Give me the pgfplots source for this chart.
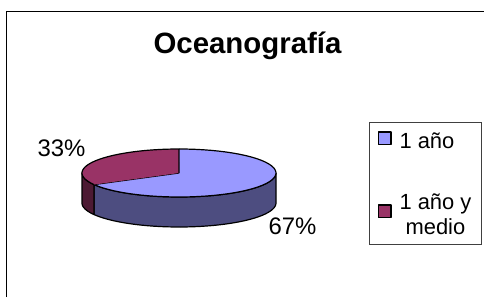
\documentclass[border=0pt]{standalone}
\usepackage{fontspec}
\setmainfont{Liberation Sans}
\usepackage{pgfplots}
\pgfplotsset{compat=1.18}
\usepackage{pgfplotstable}
\usepgfplotslibrary{fillbetween}
\definecolor{pieblue}{HTML}{9999FF}
\definecolor{piebluedark}{HTML}{4D4D80}
\definecolor{piered}{HTML}{993366}
\definecolor{pieredark}{HTML}{4D1A33}

\pgfplotstableread{
label value
{1 año} 67
{1 año y medio} 33
}\piedata
\pgfplotstablegetelem{0}{value}\of\piedata\let\vA\pgfplotsretval
\pgfplotstablegetelem{1}{value}\of\piedata\let\vB\pgfplotsretval
\pgfmathsetmacro\fA{\vA/(\vA+\vB)}
\pgfmathsetmacro\fB{\vB/(\vA+\vB)}
\pgfmathsetmacro\aS{90}
\pgfmathsetmacro\aM{90-360*\fA}
\pgfmathsetmacro\aE{\aM-360*\fB}
\def\cx{179}\def\cy{173}\def\rx{97}\def\ry{24}\def\dz{30}
\newcommand\twoline[2]{\vtop{\baselineskip=25bp\halign{\hfil##\hfil\cr #1\cr #2\cr}}}

\begin{document}%
\begin{tikzpicture}
\begin{axis}[
  x=1bp, y=1bp, xmin=0, xmax=484, ymin=0, ymax=297,
  y dir=reverse, hide axis, clip=false,
  legend style={at={(axis cs:369,122)}, anchor=north west,
    draw=black!75, line width=1bp, fill=white,
    font=\fontsize{22}{25}\selectfont,
    inner xsep=8bp, inner ysep=8bp,
    row sep=40bp,
    cells={inner sep=0pt},
    /tikz/every odd column/.append style={column sep=6bp}},
  legend cell align=left,
  legend image code/.code={\draw[#1, draw=black, line width=1.5bp] (0.5bp,-3.5bp) rectangle (13bp,9bp);},
]
% sides
\addplot[name path=bt, draw=none, domain=\aM:0, samples=40, forget plot] ({\cx+\rx*cos(x)},{\cy-\ry*sin(x)});
\addplot[name path=bb, draw=none, domain=\aM:0, samples=40, forget plot] ({\cx+\rx*cos(x)},{\cy-\ry*sin(x)+\dz});
\addplot[fill=piebluedark, draw=black, line width=1.2bp, line join=round, forget plot] fill between[of=bt and bb];
\addplot[name path=rt, draw=none, domain=-180:\aM, samples=20, forget plot] ({\cx+\rx*cos(x)},{\cy-\ry*sin(x)});
\addplot[name path=rb, draw=none, domain=-180:\aM, samples=20, forget plot] ({\cx+\rx*cos(x)},{\cy-\ry*sin(x)+\dz});
\addplot[fill=pieredark, draw=black, line width=1.2bp, line join=round, forget plot] fill between[of=rt and rb];
% top faces
\addplot[fill=pieblue, draw=black, line width=1.2bp, line join=round, domain=0:1.02, samples=52]
  ({(x>1.01) ? \cx : \cx+\rx*cos(\aS+(\aM-\aS)*x)}, {(x>1.01) ? \cy : \cy-\ry*sin(\aS+(\aM-\aS)*x)});
\addlegendentry{1 año}
\addplot[fill=piered, draw=black, line width=1.2bp, line join=round, domain=0:1.02, samples=52]
  ({(x>1.01) ? \cx : \cx+\rx*cos(\aM+(\aE-\aM)*x)}, {(x>1.01) ? \cy : \cy-\ry*sin(\aM+(\aE-\aM)*x)});
\addlegendentry[text depth=25bp]{\twoline{1 año y}{medio}}
% outer frame
\addplot[black, line width=1.5bp, forget plot] coordinates {(6.5,297) (6.5,11.5) (484,11.5)};
% texts
\node[anchor=base, font=\bfseries\fontsize{29.5}{33}\selectfont] at (axis cs:247.5,53) {Oceanografía};
\node[anchor=base, font=\fontsize{24}{28}\selectfont] at (axis cs:61.5,156) {\vB\%};
\node[anchor=base, font=\fontsize{24}{28}\selectfont] at (axis cs:292.5,234) {\vA\%};
\end{axis}
\pgfresetboundingbox
\path[use as bounding box] (current axis.south west) rectangle (current axis.north east);
\end{tikzpicture}%
\end{document}
